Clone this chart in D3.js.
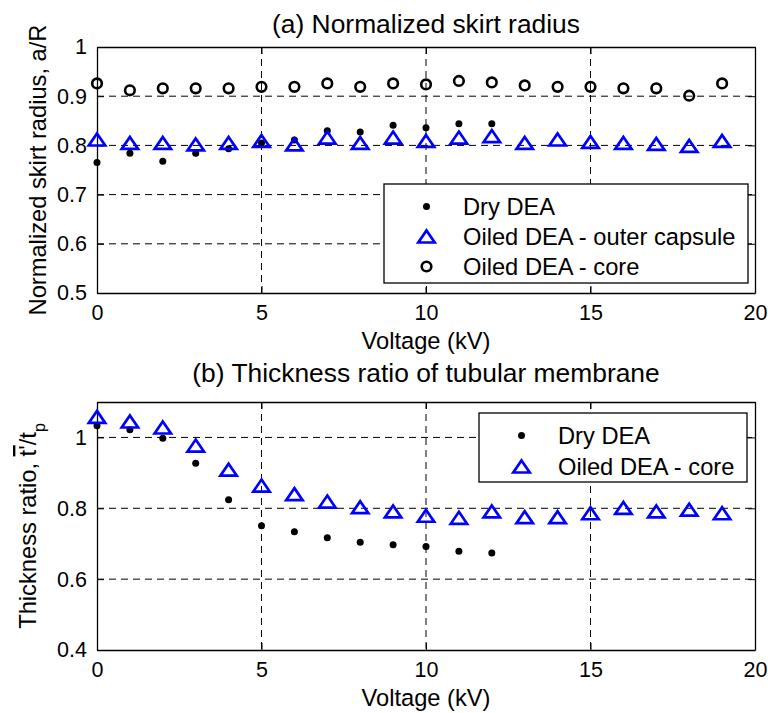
<!DOCTYPE html>
<html>
<head>
<meta charset="utf-8">
<script src="https://cdn.jsdelivr.net/npm/d3@7"></script>
<style>
  body { margin: 0; background: #fff; }
  svg { display: block; font-family: "Liberation Sans", Arial, sans-serif; }
</style>
</head>
<body>
<div id="chart"></div>
<script>
// voltage steps (kV)
const voltageAll = [0, 1, 2, 3, 4, 5, 6, 7, 8, 9, 10, 11, 12, 13, 14, 15, 16, 17, 18, 19];
const voltageDry = [0, 1, 2, 3, 4, 5, 6, 7, 8, 9, 10, 11, 12];

// (a) normalized skirt radius a/R
const radiusDry = [0.765, 0.784, 0.768, 0.784, 0.793, 0.805, 0.811, 0.830, 0.827, 0.841, 0.836, 0.844, 0.844];
const radiusOuter = [0.812, 0.805, 0.805, 0.802, 0.805, 0.809, 0.802, 0.816, 0.805, 0.816,
                     0.809, 0.816, 0.819, 0.805, 0.812, 0.807, 0.805, 0.803, 0.799, 0.809];
const radiusCore = [0.926, 0.912, 0.916, 0.916, 0.916, 0.919, 0.919, 0.926, 0.919, 0.926,
                    0.924, 0.931, 0.928, 0.922, 0.919, 0.919, 0.916, 0.916, 0.901, 0.926];

// (b) thickness ratio
const thickDry = [1.033, 1.022, 0.998, 0.927, 0.824, 0.751, 0.734, 0.717, 0.704, 0.697, 0.692, 0.679, 0.674];
const thickCore = [1.058, 1.045, 1.028, 0.977, 0.909, 0.864, 0.840, 0.819, 0.803, 0.791,
                   0.779, 0.773, 0.791, 0.775, 0.775, 0.786, 0.801, 0.791, 0.796, 0.786];

const xTicks = [0, 5, 10, 15, 20];
const yTicksA = [0.5, 0.6, 0.7, 0.8, 0.9, 1];
const yTicksB = [0.4, 0.6, 0.8, 1];

const W = 768, H = 713;
const TICK_FONT = 21.5, LABEL_FONT = 23.7, TITLE_FONT = 26.4;

const svg = d3.select("#chart").append("svg")
    .attr("width", W)
    .attr("height", H);

svg.append("rect").attr("width", W).attr("height", H).attr("fill", "#fff");

const drawMarker = (g, type, x, y) => {
    if (type === "dot") {
        g.append("circle").attr("cx", x).attr("cy", y).attr("r", 3.5).attr("fill", "#000");
    } else if (type === "circle") {
        g.append("circle").attr("cx", x).attr("cy", y).attr("r", 4.8)
            .attr("fill", "none").attr("stroke", "#000").attr("stroke-width", 2.6);
    } else {
        const w = 8.2, h = 6;
        g.append("path")
            .attr("d", `M${x},${y - h}L${x + w},${y + h}L${x - w},${y + h}Z`)
            .attr("fill", "none").attr("stroke", "#0000ff").attr("stroke-width", 2.7)
            .attr("stroke-linejoin", "miter");
    }
};

const drawPanel = (cfg) => {
    const x = d3.scaleLinear().domain([0, 20]).range([97, 755]);
    const y = d3.scaleLinear().domain(cfg.yDomain).range([cfg.bottom, cfg.top]);
    const g = svg.append("g");

    // grid
    xTicks.filter(t => t > 0 && t < 20).forEach(t => {
        g.append("line")
            .attr("x1", x(t)).attr("x2", x(t))
            .attr("y1", cfg.top).attr("y2", cfg.bottom)
            .attr("stroke", "#000").attr("stroke-width", 1)
            .attr("stroke-dasharray", "7,5");
    });
    cfg.yTicks.filter(t => t > cfg.yDomain[0] && t < cfg.yDomain[1]).forEach(t => {
        g.append("line")
            .attr("x1", 97).attr("x2", 755)
            .attr("y1", y(t)).attr("y2", y(t))
            .attr("stroke", "#000").attr("stroke-width", 1)
            .attr("stroke-dasharray", "7,5");
    });

    // axes, ticks pointing inward on all four sides
    const styleAxis = (ax) => {
        ax.attr("font-family", null).attr("font-size", null);
        ax.selectAll("path").attr("stroke", "#000").attr("stroke-width", 1.3);
        ax.selectAll("line").attr("stroke", "#000").attr("stroke-width", 1);
        ax.selectAll("text").style("font-size", TICK_FONT + "px").attr("fill", "#000");
    };

    const xb = g.append("g").attr("transform", `translate(0,${cfg.bottom})`)
        .call(d3.axisBottom(x).tickValues(xTicks).tickSize(-7).tickSizeOuter(0).tickPadding(11.5));
    styleAxis(xb);
    const xt = g.append("g").attr("transform", `translate(0,${cfg.top})`)
        .call(d3.axisTop(x).tickValues(xTicks).tickSize(-7).tickSizeOuter(0).tickFormat(""));
    styleAxis(xt);
    const yl = g.append("g").attr("transform", "translate(97,0)")
        .call(d3.axisLeft(y).tickValues(cfg.yTicks).tickSize(-7).tickSizeOuter(0).tickPadding(10)
            .tickFormat(d => String(+d.toFixed(1))));
    styleAxis(yl);
    const yr = g.append("g").attr("transform", "translate(755,0)")
        .call(d3.axisRight(y).tickValues(cfg.yTicks).tickSize(-7).tickSizeOuter(0).tickFormat(""));
    styleAxis(yr);

    // title and labels
    g.append("text")
        .attr("x", 426).attr("y", cfg.titleY)
        .attr("text-anchor", "middle")
        .style("font-size", TITLE_FONT + "px")
        .text(cfg.title);

    g.append("text")
        .attr("x", 426).attr("y", cfg.bottom + 56)
        .attr("text-anchor", "middle")
        .style("font-size", LABEL_FONT + "px")
        .text("Voltage (kV)");

    cfg.yLabel(g.append("text")
        .attr("transform", `translate(${cfg.yLabelX},${(cfg.top + cfg.bottom) / 2}) rotate(-90)`)
        .attr("text-anchor", "middle")
        .style("font-size", LABEL_FONT + "px"));

    // data
    cfg.series.forEach(s => {
        const mg = g.append("g");
        s.xs.forEach((v, i) => drawMarker(mg, s.type, x(v), y(s.ys[i])));
    });

    // legend
    const L = cfg.legend;
    g.append("rect")
        .attr("x", L.x).attr("y", L.y).attr("width", L.w).attr("height", L.h)
        .attr("fill", "#fff").attr("stroke", "#000").attr("stroke-width", 1.3);
    cfg.series.forEach((s, i) => {
        const ly = L.y + 22.5 + i * L.step;
        drawMarker(g, s.type, L.x + 42.5, ly);
        g.append("text")
            .attr("x", L.x + 79).attr("y", ly)
            .attr("dy", "0.36em")
            .style("font-size", LABEL_FONT + "px")
            .text(s.name);
    });
};

drawPanel({
    top: 47, bottom: 293,
    yDomain: [0.5, 1], yTicks: yTicksA,
    title: "(a) Normalized skirt radius", titleY: 33,
    yLabelX: 46,
    yLabel: t => t.text("Normalized skirt radius, a/R"),
    series: [
        { name: "Dry DEA", type: "dot", xs: voltageDry, ys: radiusDry },
        { name: "Oiled DEA - outer capsule", type: "tri", xs: voltageAll, ys: radiusOuter },
        { name: "Oiled DEA - core", type: "circle", xs: voltageAll, ys: radiusCore }
    ],
    legend: { x: 384, y: 184, w: 364, h: 99, step: 30 }
});

drawPanel({
    top: 402, bottom: 650,
    yDomain: [0.4, 1.1], yTicks: yTicksB,
    title: "(b) Thickness ratio of tubular membrane", titleY: 382,
    yLabelX: 36,
    yLabel: t => {
        t.append("tspan").text("Thickness ratio, ");
        t.append("tspan").style("text-decoration", "overline").text("t'");
        t.append("tspan").text("/t");
        t.append("tspan").attr("baseline-shift", "sub").style("font-size", "16px").text("p");
    },
    series: [
        { name: "Dry DEA", type: "dot", xs: voltageDry, ys: thickDry },
        { name: "Oiled DEA - core", type: "tri", xs: voltageAll, ys: thickCore }
    ],
    legend: { x: 479, y: 413, w: 268, h: 69, step: 31 }
});
</script>
</body>
</html>
